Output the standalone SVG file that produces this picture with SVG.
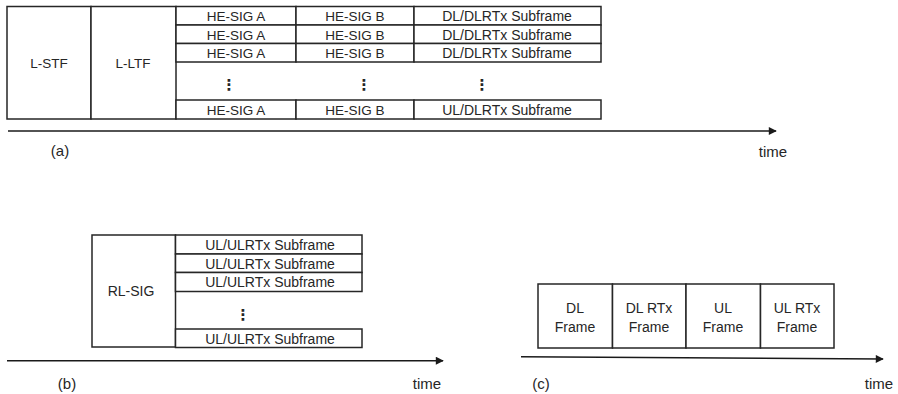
<svg xmlns="http://www.w3.org/2000/svg" width="898" height="394" viewBox="0 0 898 394">
  <style>
    .box { fill: #ffffff; stroke: #262626; stroke-width: 1.5; }
    .t { font-family: "Liberation Sans", Arial, sans-serif; fill: #262626; text-anchor: middle; }
    .s13 { font-size: 13.5px; }
    .s14 { font-size: 14px; }
    .s15 { font-size: 15px; }
    .dots { font-family: "DejaVu Sans", sans-serif; font-size: 15px; font-weight: bold; fill: #262626; text-anchor: middle; }
    .axis { stroke: #1a1a1a; stroke-width: 1.6; fill: none; marker-end: url(#arrow); }
  </style>
  <defs>
    <marker id="arrow" viewBox="0 0 10 10" refX="9" refY="5" markerWidth="6" markerHeight="5" markerUnits="strokeWidth" orient="auto">
      <path d="M0,0 L10,5 L0,10 z" fill="#1a1a1a"/>
    </marker>
  </defs>
  <rect width="898" height="394" fill="#ffffff"/>

  <!-- (a) downlink frame -->
  <g id="a-lstf">
    <rect class="box" x="7" y="6.5" width="84" height="112.5"/>
    <text class="t s13" x="49" y="68">L-STF</text>
  </g>
  <g id="a-lltf">
    <rect class="box" x="91" y="6.5" width="85" height="112.5"/>
    <text class="t s13" x="133" y="68">L-LTF</text>
  </g>
  <g id="a-row1">
    <rect class="box" x="176" y="6.5" width="120" height="18.5"/>
    <rect class="box" x="296" y="6.5" width="118" height="18.5"/>
    <rect class="box" x="414" y="6.5" width="187" height="18.5"/>
    <text class="t s13" x="236" y="21">HE-SIG A</text>
    <text class="t s13" x="355" y="21">HE-SIG B</text>
    <text class="t s14" x="507" y="21">DL/DLRTx Subframe</text>
  </g>
  <g id="a-row2">
    <rect class="box" x="176" y="25" width="120" height="18.5"/>
    <rect class="box" x="296" y="25" width="118" height="18.5"/>
    <rect class="box" x="414" y="25" width="187" height="18.5"/>
    <text class="t s13" x="236" y="39.5">HE-SIG A</text>
    <text class="t s13" x="355" y="39.5">HE-SIG B</text>
    <text class="t s14" x="507" y="39.5">DL/DLRTx Subframe</text>
  </g>
  <g id="a-row3">
    <rect class="box" x="176" y="43.5" width="120" height="18.5"/>
    <rect class="box" x="296" y="43.5" width="118" height="18.5"/>
    <rect class="box" x="414" y="43.5" width="187" height="18.5"/>
    <text class="t s13" x="236" y="58">HE-SIG A</text>
    <text class="t s13" x="355" y="58">HE-SIG B</text>
    <text class="t s14" x="507" y="58">DL/DLRTx Subframe</text>
  </g>
  <g id="a-ellipsis">
    <text class="dots" x="229" y="90">⋮</text>
    <text class="dots" x="364" y="90">⋮</text>
    <text class="dots" x="482" y="90">⋮</text>
  </g>
  <g id="a-rowN">
    <rect class="box" x="176" y="100" width="120" height="19"/>
    <rect class="box" x="296" y="100" width="118" height="19"/>
    <rect class="box" x="414" y="100" width="187" height="19"/>
    <text class="t s13" x="236" y="115">HE-SIG A</text>
    <text class="t s13" x="355" y="115">HE-SIG B</text>
    <text class="t s14" x="507" y="115">UL/DLRTx Subframe</text>
  </g>

  <!-- (b) uplink frame -->
  <g id="b-rlsig">
    <rect class="box" x="92" y="235" width="83.5" height="112"/>
    <text class="t s14" x="131" y="296">RL-SIG</text>
  </g>
  <g id="b-rows">
    <rect class="box" x="175.5" y="235" width="186.5" height="19"/>
    <rect class="box" x="175.5" y="254" width="186.5" height="18.5"/>
    <rect class="box" x="175.5" y="272.5" width="186.5" height="19"/>
    <rect class="box" x="175.5" y="329" width="186.5" height="18.5"/>
    <text class="t s14" x="270" y="250">UL/ULRTx Subframe</text>
    <text class="t s14" x="270" y="268.5">UL/ULRTx Subframe</text>
    <text class="t s14" x="270" y="287">UL/ULRTx Subframe</text>
    <text class="dots" x="243" y="320">⋮</text>
    <text class="t s14" x="270" y="343.5">UL/ULRTx Subframe</text>
  </g>

  <!-- (c) frame sequence -->
  <g id="c-dl">
    <rect class="box" x="538" y="284" width="74.5" height="64"/>
    <text class="t s14" x="575" y="313">DL</text>
    <text class="t s14" x="575" y="332">Frame</text>
  </g>
  <g id="c-dlrtx">
    <rect class="box" x="612.5" y="284" width="73.5" height="64"/>
    <text class="t s14" x="649" y="313">DL RTx</text>
    <text class="t s14" x="649" y="332">Frame</text>
  </g>
  <g id="c-ul">
    <rect class="box" x="686" y="284" width="74.5" height="64"/>
    <text class="t s14" x="723" y="313">UL</text>
    <text class="t s14" x="723" y="332">Frame</text>
  </g>
  <g id="c-ulrtx">
    <rect class="box" x="760.5" y="284" width="73.5" height="64"/>
    <text class="t s14" x="797" y="313">UL RTx</text>
    <text class="t s14" x="797" y="332">Frame</text>
  </g>

  <!-- time axes -->
  <g id="connectors">
    <line class="axis" x1="8" y1="131" x2="776" y2="131"/>
    <line class="axis" x1="7" y1="360.7" x2="443" y2="360.7"/>
    <line class="axis" x1="521" y1="356.8" x2="883" y2="359"/>
  </g>

  <!-- captions -->
  <g id="labels">
    <text class="t s15" x="60" y="156">(a)</text>
    <text class="t s15" x="773" y="157">time</text>
    <text class="t s15" x="67" y="389">(b)</text>
    <text class="t s15" x="427" y="389">time</text>
    <text class="t s15" x="541" y="389">(c)</text>
    <text class="t s15" x="879" y="389">time</text>
  </g>
</svg>
